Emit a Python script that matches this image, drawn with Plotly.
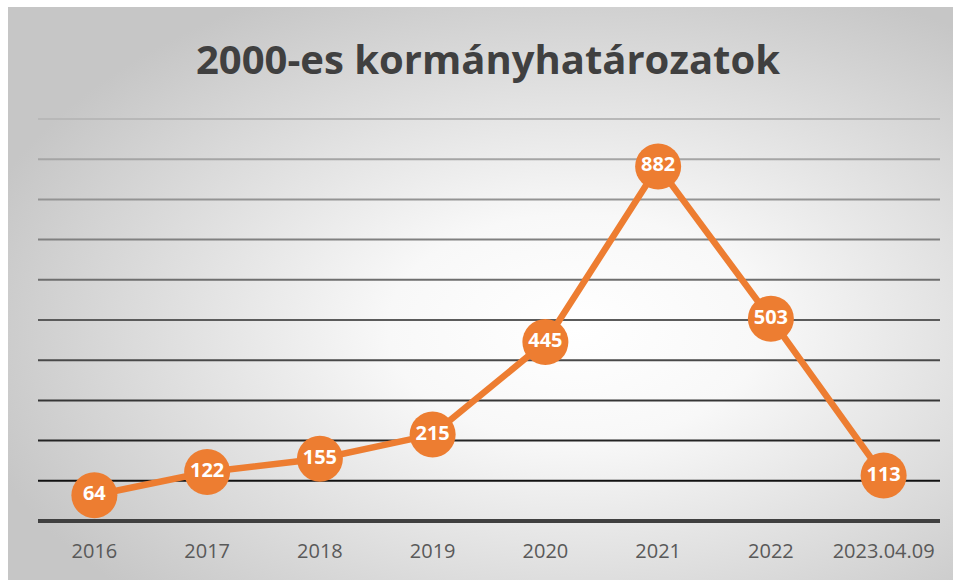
import base64
import plotly.graph_objects as go

categories = ["2016", "2017", "2018", "2019", "2020", "2021", "2022", "2023.04.09"]
values = [64, 122, 155, 215, 445, 882, 503, 113]
grid_levels = [100, 200, 300, 400, 500, 600, 700, 800, 900, 1000]
y_max = 1000
title_text = "2000-es kormányhatározatok"

ORANGE = "#ED7D31"
W, H = 957, 580
ML, MR, MT, MB = 38, 17, 119, 59
pw, ph = W - ML - MR, H - MT - MB

# radial gradient background via SVG
svg = (
    '<svg xmlns="http://www.w3.org/2000/svg" width="945" height="573" viewBox="0 0 945 573" preserveAspectRatio="none">'
    '<defs><radialGradient id="g" cx="0.6" cy="0.56" r="0.66" gradientUnits="objectBoundingBox">'
    '<stop offset="0" stop-color="#ffffff"/><stop offset="0.3" stop-color="#f8f8f8"/>'
    '<stop offset="1" stop-color="#c6c6c6"/></radialGradient></defs>'
    '<rect x="0" y="0" width="945" height="573" fill="url(#g)"/></svg>'
)
src = "data:image/svg+xml;base64," + base64.b64encode(svg.encode()).decode()

def px2paper_x(px):
    return (px - ML) / pw

def px2paper_y(py):
    return (H - MB - py) / ph

fig = go.Figure()
fig.add_trace(go.Scatter(
    x=categories, y=values, mode="lines+markers+text",
    line=dict(color=ORANGE, width=6.5),
    marker=dict(size=46, color=ORANGE),
    text=[str(v) for v in values], textposition="middle center",
    textfont=dict(family="Open Sans", size=20, color="white", weight="bold"),
    cliponaxis=False, hoverinfo="skip",
))

shapes = []
n = len(grid_levels)
for i, lv in enumerate(grid_levels):
    t = i / (n - 1)
    c0, c1 = 0x12, 0xb8
    c = int(c0 + (c1 - c0) * t)
    shapes.append(dict(type="line", xref="paper", yref="paper", x0=0, x1=1,
                       y0=lv / y_max, y1=lv / y_max,
                       line=dict(color=f"rgb({c},{c},{c})", width=2), layer="below"))
shapes.append(dict(type="line", xref="paper", yref="paper", x0=0, x1=1, y0=0, y1=0,
                   line=dict(color="#404040", width=4), layer="below"))

fig.update_layout(
    width=W, height=H,
    margin=dict(l=ML, r=MR, t=MT, b=MB),
    paper_bgcolor="white", plot_bgcolor="rgba(0,0,0,0)",
    showlegend=False,
    title=dict(text=title_text, x=(488) / W, xanchor="center", y=1 - 60 / H, yanchor="middle",
               font=dict(family="Open Sans", size=40, color="#404040", weight="bold")),
    xaxis=dict(type="category", range=[-0.5, len(categories) - 0.5], showgrid=False,
               zeroline=False, showline=False, ticks="",
               tickfont=dict(family="Open Sans", size=20, color="#595959"), ticklabelstandoff=16),
    yaxis=dict(range=[0, y_max], showgrid=False, zeroline=False, showticklabels=False,
               showline=False, fixedrange=True),
    shapes=shapes,
    images=[dict(source=src, xref="paper", yref="paper",
                 x=px2paper_x(8), y=px2paper_y(7),
                 sizex=(953 - 8) / pw, sizey=(580 - 7) / ph,
                 xanchor="left", yanchor="top", sizing="stretch", layer="below")],
)

fig.write_html("out.html")
